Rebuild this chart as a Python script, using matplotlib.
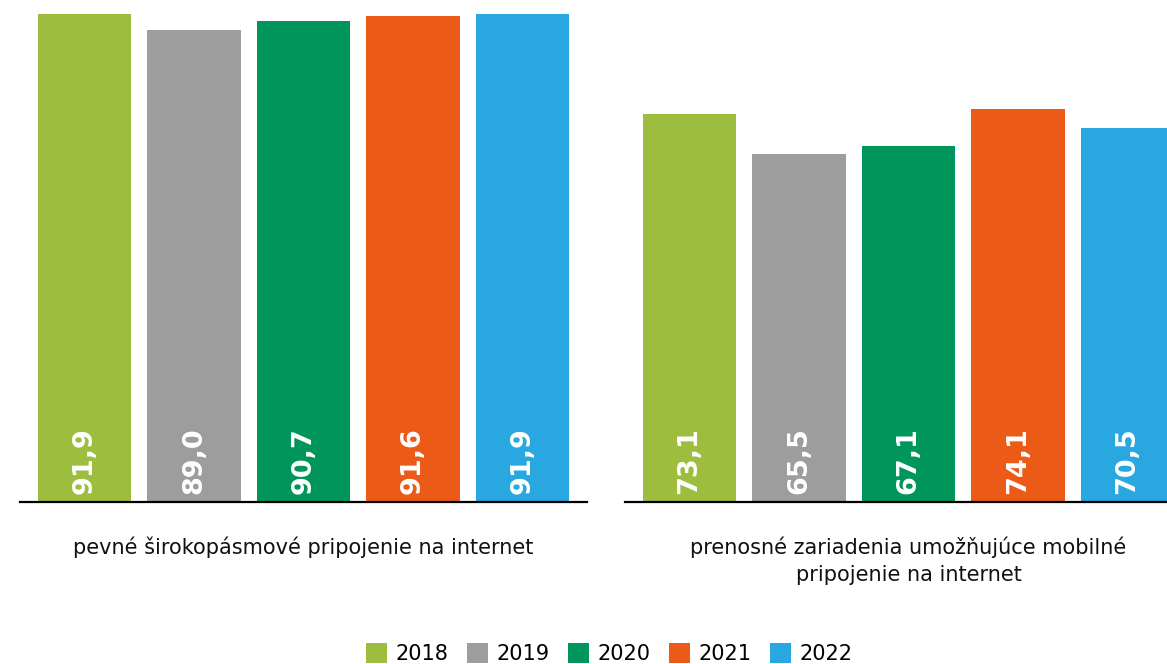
import matplotlib.pyplot as plt
from matplotlib.patches import Patch

years = ['2018', '2019', '2020', '2021', '2022']
colors = ['#9dbd3f', '#9c9d9c', '#00955a', '#eb5a16', '#28a7e0']
fixed_vals = [91.9, 89.0, 90.7, 91.6, 91.9]
mobile_vals = [73.1, 65.5, 67.1, 74.1, 70.5]
groups = ['pevné širokopásmové pripojenie na internet',
          'prenosné zariadenia umožňujúce mobilné\npripojenie na internet']

W, H = 1167, 664
fig = plt.figure(figsize=(W / 100, H / 100), dpi=100)

base = 1 - 501.5 / H
ax_l = fig.add_axes([20 / W, base, 567 / W, 1 - base])
ax_r = fig.add_axes([625 / W, base, 567 / W, 1 - base])

x = list(range(len(years)))
for ax, vals, label in [(ax_l, fixed_vals, groups[0]), (ax_r, mobile_vals, groups[1])]:
    bars = ax.bar(x, vals, width=0.85, color=colors)
    for b, v in zip(bars, vals):
        ax.text(b.get_x() + b.get_width() / 2, 1.5, f'{v:.1f}'.replace('.', ','),
                rotation=90, ha='center', va='bottom', color='white',
                fontsize=19.5, fontweight='heavy')
    ax.set_xlim(-0.589, 4.589)
    ax.set_ylim(0, 94.6)
    for s in ['top', 'left', 'right']:
        ax.spines[s].set_visible(False)
    ax.spines['bottom'].set_linewidth(1.6)
    ax.spines['bottom'].set_color('black')
    ax.set_xticks([])
    ax.set_yticks([])
    ax.text(0.5, -0.07, label, transform=ax.transAxes, ha='center', va='top',
            fontsize=15, color='#111111', linespacing=1.4)

handles = [Patch(facecolor=c, edgecolor='none') for c in colors]
fig.legend(handles, years, loc='lower center', bbox_to_anchor=(0.522, -0.028),
           ncol=5, frameon=False, fontsize=15, handlelength=1.0, handleheight=1.1,
           handletextpad=0.4, columnspacing=0.9)

fig.savefig('out.png', dpi=100)
